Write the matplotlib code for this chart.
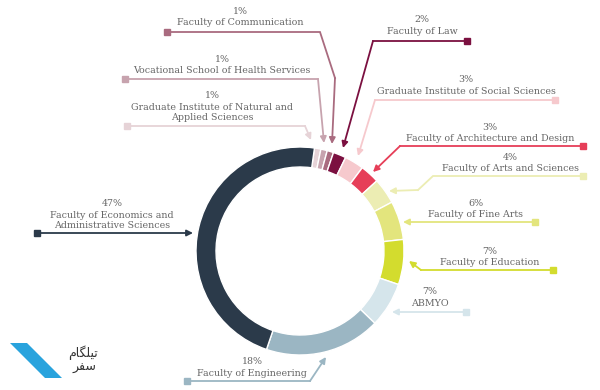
import matplotlib
matplotlib.use("Agg")
import matplotlib.pyplot as plt

# share of students by faculty (clockwise from the top)
faculties = [
    "Graduate Institute of Natural and\nApplied Sciences",
    "Vocational School of Health Services",
    "Faculty of Communication",
    "Faculty of Law",
    "Graduate Institute of Social Sciences",
    "Faculty of Architecture and Design",
    "Faculty of Arts and Sciences",
    "Faculty of Fine Arts",
    "Faculty of Education",
    "ABMYO",
    "Faculty of Engineering",
    "Faculty of Economics and\nAdministrative Sciences",
]
shares = [1, 1, 1, 2, 3, 3, 4, 6, 7, 7, 18, 47]
colors = ["#e6d3d7", "#c7a3ae", "#a96b7f", "#7b1040", "#f6c9cd", "#e63e58",
          "#ecedb3", "#e3e57d", "#d3dc2e", "#d5e5eb", "#9bb6c3", "#2b3a4a"]

W, H = 600, 390

# label layout in pixel coords (y from top): text centre, leader path (square -> arrow tip)
label_pos = [(212, 96), (222, 59), (240, 11), (422, 20), (466, 80), (490, 127),
             (510, 157), (476, 203), (490, 251), (430, 292), (252, 362), (112, 204)]
leaders = [
    [(127, 126), (305, 126), (311, 140)],
    [(125, 79), (318, 79), (324, 143)],
    [(167, 32), (320, 32), (335, 78), (332, 144)],
    [(467, 41), (373, 41), (343, 148)],
    [(555, 100), (375, 100), (358, 156)],
    [(583, 146), (400, 146), (373, 172)],
    [(583, 176), (433, 176), (418, 190), (389, 191)],
    [(535, 222), (403, 222)],
    [(553, 270), (421, 270), (409, 261)],
    [(466, 312), (392, 312)],
    [(187, 381), (310, 381), (326, 357)],
    [(37, 233), (193, 233)],
]

fig = plt.figure(figsize=(6, 3.9), dpi=100)
ax = fig.add_axes([0, 0, 1, 1])

ax.pie(shares, colors=colors, center=(300, H - 251), radius=104,
       startangle=82, counterclock=False,
       wedgeprops=dict(width=20, edgecolor="white", linewidth=1))

txt_color = "#666666"
font = "DejaVu Serif"
for name, share, (tx, ty), path, c in zip(faculties, shares, label_pos, leaders, colors):
    ax.text(tx, H - ty, f"{share}%", ha="center", va="center",
            fontsize=6.8, color=txt_color, family=font)
    ax.text(tx, H - ty - 7, name, ha="center", va="top", fontsize=6.8,
            color=txt_color, family=font, linespacing=1.1)
    xs = [p[0] for p in path]
    ys = [H - p[1] for p in path]
    ax.plot(xs[:-1], ys[:-1], color=c, lw=1.3, solid_joinstyle="miter")
    ax.plot(xs[0], ys[0], marker="s", ms=5, color=c, mec=c)
    ax.annotate("", xy=(xs[-1], ys[-1]), xytext=(xs[-2], ys[-2]),
                arrowprops=dict(arrowstyle="-|>", color=c, lw=1.3,
                                mutation_scale=9, shrinkA=0, shrinkB=0))

# watermark logo bottom-left
ax.fill([10, 27, 62, 45], [H - 343, H - 343, H - 378, H - 378], color="#29a3dd", lw=0)
ax.text(68, H - 353, "\ufee1\ufe8e\ufb95\ufee0\ufbff\ufe97", fontsize=9,
        color="#333333", family="DejaVu Sans", va="center", ha="left")
ax.text(72, H - 367, "\ufeae\ufed4\ufeb3", fontsize=9,
        color="#333333", family="DejaVu Sans", va="center", ha="left")

ax.set_xlim(0, W)
ax.set_ylim(0, H)
ax.set_aspect("equal")
ax.axis("off")

fig.savefig("out.png", dpi=100, facecolor="white")
